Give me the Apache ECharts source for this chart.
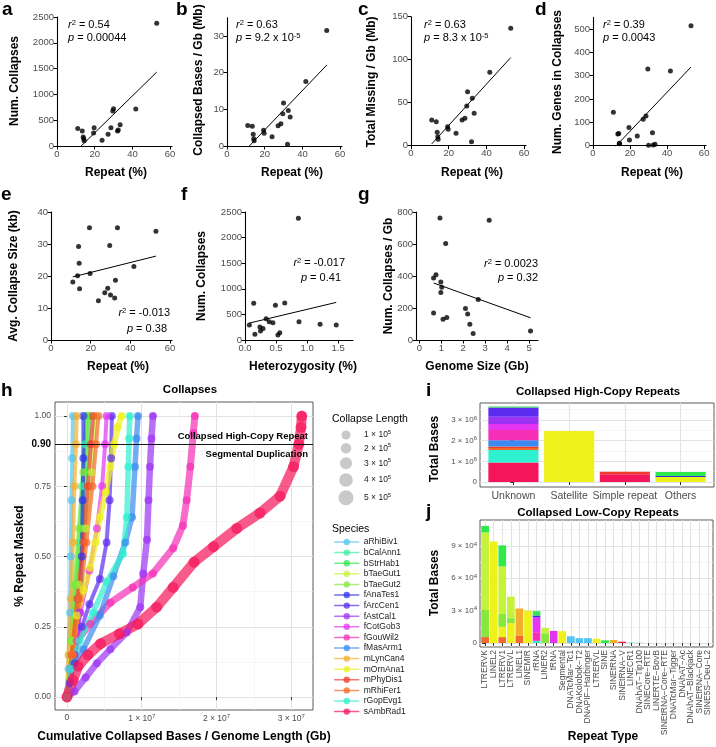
<!DOCTYPE html>
<html><head><meta charset="utf-8">
<script src="https://cdn.jsdelivr.net/npm/echarts@6/dist/echarts.min.js"></script>
<style>html,body{margin:0;padding:0;background:#fff}#c{width:716px;height:747px}</style>
</head><body><div id="c"></div>
<script>
// ---------------- DATA ----------------
// panels a-g : one value per species (17 assemblies)
const repeatPct        = [11.0,13.4,13.9,14.2,14.4,19.4,19.7,23.9,27.1,28.6,29.6,30.0,32.1,32.5,33.5,41.8,52.9];
const numCollapses     = [337,291,175,140,100,252,356,110,227,356,678,724,291,310,414,717,2378];
const collapsedMbPerGb = [5.6,5.4,3.2,2.0,1.4,4.3,3.5,2.5,5.5,6.1,8.8,11.7,0.5,9.7,7.9,17.6,31.5];
const missingMbPerGb   = [29.9,27.9,15.5,10.5,7.4,22.1,19.0,14.4,29.9,31.8,46.2,62.8,4.7,55.1,37.7,85.3,136.5];
const genesInCollapses = [143,50,52,10,8,78,24,42,113,127,329,2,56,3,6,320,514];
const avgCollapseKb    = [18.1,20.1,29.2,24.0,16.0,35.1,20.8,12.3,14.8,16.2,29.5,14.1,13.1,18.7,35.1,23.0,34.0];
const heterozygosity   = [0.45,0.07,0.25,0.56,0.53,0.24,0.39,0.16,0.29,0.87,0.49,0.64,1.47,1.21,0.34,0.14,0.86];
const genomeSizeGb     = [1.02,5.06,1.25,1.08,2.45,0.65,0.98,0.65,2.3,2.2,2.68,1.2,0.98,0.76,2.1,0.94,3.18];
const collapsesPerGb   = [330,57,140,130,41,388,363,169,99,162,253,603,297,408,197,763,748];

const statR2 = {a:'0.54', b:'0.63', c:'0.63', d:'0.39', e:'-0.013', f:'-0.017', g:'0.0023'};
const statP  = {a:['0.00044',''], b:['9.2 x 10','-5'], c:['8.3 x 10','-5'], d:['0.0043',''], e:['0.38',''], f:['0.41',''], g:['0.32','']};

// panel h : species curves, x = cumulative collapsed bases / genome length (units of 1e7), y = fraction repeat masked
const species = ['aRhiBiv1','bCalAnn1','bStrHab1','bTaeGut1','bTaeGut2','fAnaTes1','fArcCen1','fAstCal1','fCotGob3','fGouWil2','fMasArm1','mLynCan4','mOrnAna1','mPhyDis1','mRhiFer1','rGopEvg1','sAmbRad1'];
const speciesColors = ['#52c5f2','#3cef9e','#2fe84c','#c5f23b','#86e83c','#2b31ef','#5b2cf0','#9c33f2','#e534f2','#f52fb6','#3a8af0','#f3af2c','#eef21a','#ef3a2c','#f36b2a','#2ff0cf','#f5155a'];
const hCurves = {
  aRhiBiv1: [[0,0],[0.02,0.1],[0.04,0.3],[0.05,0.5],[0.06,0.7],[0.07,0.85],[0.08,1.0]],
  bCalAnn1: [[0,0],[0.04,0.15],[0.1,0.35],[0.16,0.55],[0.2,0.75],[0.24,0.9],[0.26,1.0]],
  bStrHab1: [[0,0],[0.06,0.2],[0.12,0.4],[0.2,0.6],[0.26,0.8],[0.3,1.0]],
  bTaeGut1: [[0,0],[0.08,0.2],[0.16,0.4],[0.25,0.6],[0.33,0.8],[0.38,1.0]],
  bTaeGut2: [[0,0],[0.05,0.2],[0.1,0.4],[0.16,0.6],[0.22,0.8],[0.27,1.0]],
  fAnaTes1: [[0,0],[0.1,0.12],[0.17,0.3],[0.2,0.5],[0.21,0.7],[0.22,0.85],[0.22,1.0]],
  fArcCen1: [[0,0],[0.04,0.05],[0.1,0.15],[0.2,0.25],[0.3,0.33],[0.44,0.42],[0.53,0.55],[0.57,0.7],[0.59,0.85],[0.6,1.0]],
  fAstCal1: [[0,0],[0.1,0.02],[0.25,0.07],[0.4,0.12],[0.58,0.17],[0.8,0.23],[0.98,0.32],[1.02,0.44],[1.07,0.56],[1.09,0.7],[1.11,0.82],[1.13,0.92],[1.15,1.0]],
  fCotGob3: [[0,0],[0.08,0.15],[0.18,0.3],[0.3,0.45],[0.4,0.6],[0.47,0.75],[0.51,0.9],[0.53,1.0]],
  fGouWil2: [[0,0],[0.05,0.1],[0.13,0.2],[0.31,0.26],[0.58,0.336],[0.88,0.39],[1.15,0.44],[1.42,0.53],[1.55,0.61],[1.6,0.7],[1.65,0.82],[1.69,0.94],[1.71,1.0]],
  fMasArm1: [[0,0],[0.05,0.1],[0.22,0.17],[0.44,0.29],[0.62,0.43],[0.78,0.55],[0.87,0.64],[0.91,0.82],[0.93,0.92],[0.95,1.0]],
  mLynCan4: [[0,0],[0.02,0.15],[0.05,0.35],[0.08,0.55],[0.1,0.75],[0.12,0.9],[0.13,1.0]],
  mOrnAna1: [[0,0],[0.06,0.15],[0.13,0.29],[0.22,0.38],[0.31,0.46],[0.38,0.55],[0.44,0.64],[0.52,0.73],[0.58,0.82],[0.63,0.9],[0.68,0.96],[0.73,1.0]],
  mPhyDis1: [[0,0],[0.06,0.15],[0.14,0.35],[0.22,0.55],[0.28,0.75],[0.32,0.9],[0.35,1.0]],
  mRhiFer1: [[0,0],[0.08,0.15],[0.17,0.35],[0.26,0.55],[0.34,0.75],[0.39,0.9],[0.42,1.0]],
  rGopEvg1: [[0,0],[0.05,0.1],[0.17,0.2],[0.35,0.3],[0.53,0.41],[0.75,0.51],[0.8,0.64],[0.82,0.82],[0.83,0.92],[0.84,1.0]],
  sAmbRad1: [[0,0],[0.08,0.06],[0.15,0.11],[0.28,0.15],[0.45,0.19],[0.7,0.225],[0.95,0.26],[1.2,0.32],[1.42,0.39],[1.7,0.48],[1.96,0.535],[2.27,0.6],[2.58,0.655],[2.85,0.715],[3.03,0.82],[3.1,0.9],[3.13,0.96],[3.14,1.0]]
};
const threshold = 0.9;
const hXTicks = [0,1,2,3];              // x 10^7
const hYTicks = [0,0.25,0.5,0.75,0.9,1.0];
const sizeLegendVals = [1,2,3,4,5];     // x 10^5

// panel i : collapsed high-copy repeats (units of 1e6 bases)
const iCats = ['Unknown','Satellite','Simple repeat','Others'];
const iStacks = {
  sAmbRad1:[0.95,0,0.38,0], rGopEvg1:[0.6,0,0,0], mRhiFer1:[0.1,0,0,0], mPhyDis1:[0.07,0,0.12,0],
  mOrnAna1:[0,2.47,0,0.24], fMasArm1:[0.3,0,0,0], fGouWil2:[0.5,0,0,0], fCotGob3:[0.28,0,0,0],
  fAstCal1:[0.35,0,0,0], fArcCen1:[0.45,0,0,0], fAnaTes1:[0,0,0,0.05], bStrHab1:[0.05,0,0,0.2]
};
const iYTicks = [0,1,2,3];

// panel j : collapsed low-copy repeats (units of 1e4 bases)
const jCats = ['LTRERVK','LINEL2','LTRERV1','LTRERVL','LINEL1','SINEMIR','rRNA','LINER2','tRNA','Segmental','DNATcMar−Tc1','DNAKolobok−T2','DNAPIF−Harbinger','LTRERVL','SINE','SINEtRNA','SINEtRNA−V','LINECR1','DNAhAT−Tip100','SINECore−RTE','LINERTE−BovB','SINEtRNA−Core−RTE','DNATcMar−Tigger','DNAhAT−Ac','DNAhAT−Blackjack','SINEtRNA−Core','SINE5S−Deu−L2'];
const jStacks = {
  sAmbRad1:[0,0,0,0,0,0,0,0,0,0,0,0,0,0,0,0,0.12,0,0,0,0,0,0,0,0,0,0],
  rGopEvg1:[0,0,0,0,0,0,0.2,0,0,0,0,0,0,0,0,0,0,0.04,0,0,0,0,0,0,0,0,0],
  mRhiFer1:[0.55,0,0.55,0,0.7,0,0,0,0,0,0,0,0,0,0,0,0,0,0,0,0,0,0,0,0,0,0],
  mOrnAna1:[0,9.4,0.95,1.85,0,3.0,0,0,0,1.1,0,0,0,0.4,0,0,0,0,0,0,0,0,0,0,0,0,0],
  mLynCan4:[0,0,0,0,2.5,0,0,0,0,0,0,0,0,0,0,0.28,0,0,0,0,0,0,0,0,0,0,0],
  fGouWil2:[0,0,0,0,0,0,0.8,0,0,0,0,0,0,0,0,0,0,0,0,0,0,0,0,0,0,0,0],
  fCotGob3:[0,0,0,0,0,0,1.4,0,1.12,0,0,0,0,0,0,0,0,0,0,0,0,0,0,0,0,0,0],
  fAnaTes1:[0,0,0,0,0,0,0.15,0,0,0,0,0,0,0,0,0,0,0,0,0,0,0,0,0,0,0,0],
  bTaeGut2:[2.5,0,1.2,0.45,0,0,0,0.9,0,0,0,0,0,0,0,0,0,0,0,0,0,0,0,0,0,0,0],
  bTaeGut1:[7.2,0,4.4,2.0,0,0,0,0.5,0,0,0,0,0,0,0,0,0,0,0,0,0,0,0,0,0,0,0],
  bStrHab1:[0.6,0,1.95,0,0,0,0.4,0,0,0,0,0,0,0,0.25,0,0,0,0,0,0,0,0,0,0,0,0],
  aRhiBiv1:[0,0,0,0,0,0,0,0,0,0,0.62,0.45,0.45,0,0,0,0,0,0.03,0,0,0,0,0,0,0,0]
};
const jYTicks = [0,3,6,9];

// ---------------- BUILD ----------------
const FONT = '"Liberation Sans", Arial, Helvetica, sans-serif';
const GREY = '#4d4d4d', BORDER = '#5a5a5a', MAJ = '#e2e2e2', MIN = '#f0f0f0';
const grids = [], xAxes = [], yAxes = [], series = [], graphics = [];
const colorOf = sp => speciesColors[species.indexOf(sp)];

function sciRich(fs, color) {
  return { n:{fontSize:fs,color,fontFamily:FONT}, s:{fontSize:Math.round(fs*0.72),color,fontFamily:FONT,padding:[0,0,Math.round(fs*0.55),0]},
           b:{fontSize:fs+1.5,color:'#000',fontWeight:'bold',fontFamily:FONT} };
}
const sciFmt = exp => v => v === 0 ? '{n|0}' : '{n|' + v + ' × 10}{s|' + exp + '}';

function fit(xs, ys) {
  const n = xs.length;
  const mx = xs.reduce((a,b)=>a+b,0)/n, my = ys.reduce((a,b)=>a+b,0)/n;
  let sxy = 0, sxx = 0;
  for (let i=0;i<n;i++){ sxy += (xs[i]-mx)*(ys[i]-my); sxx += (xs[i]-mx)**2; }
  const b = sxy/sxx, a = my - b*mx;
  const x0 = Math.min(...xs), x1 = Math.max(...xs);
  return [[x0, a+b*x0],[x1, a+b*x1]];
}

function scatterPanel(rect, xs, ys, xr, yr, xt, yt, xfmt) {
  const gi = grids.length;
  grids.push({left:rect[0], top:rect[1], width:rect[2], height:rect[3]});
  const common = {
    gridIndex:gi, type:'value',
    axisLine:{show:true,onZero:false,lineStyle:{color:'#000',width:1.1}},
    splitLine:{show:false}
  };
  xAxes.push(Object.assign({}, common, {min:xr[0], max:xr[1],
    axisTick:{show:true,length:3.5,customValues:xt,lineStyle:{color:'#000'}},
    axisLabel:{customValues:xt, formatter:xfmt || (v=>String(v)), color:GREY, fontSize:9.5, fontFamily:FONT, margin:3, showMinLabel:true, showMaxLabel:true}}));
  yAxes.push(Object.assign({}, common, {min:yr[0], max:yr[1],
    axisTick:{show:true,length:3.5,customValues:yt,lineStyle:{color:'#000'}},
    axisLabel:{customValues:yt, formatter:v=>String(v), color:GREY, fontSize:9.5, fontFamily:FONT, margin:3, showMinLabel:true, showMaxLabel:true}}));
  series.push({type:'scatter', xAxisIndex:gi, yAxisIndex:gi, data:xs.map((x,i)=>[x,ys[i]]),
    symbolSize:5, itemStyle:{color:'#000'}, silent:true, z:3});
  series.push({type:'line', xAxisIndex:gi, yAxisIndex:gi, data:fit(xs,ys), symbol:'none',
    lineStyle:{color:'#000',width:1}, clip:true, silent:true, z:2});
}

scatterPanel([57,17,115,129],    repeatPct, numCollapses,     [0,61],[0,2500],[0,20,40,60],[0,500,1000,1500,2000,2500]);
scatterPanel([227,17.7,115,128.3],repeatPct, collapsedMbPerGb,[0,61],[0,35],  [0,20,40,60],[0,10,20,30]);
scatterPanel([411,16.7,115,129], repeatPct, missingMbPerGb,   [0,61],[0,150], [0,20,40,60],[0,50,100,150]);
scatterPanel([593,17.4,113,128.3],repeatPct, genesInCollapses,[0,61],[0,550], [0,20,40,60],[0,100,200,300,400,500]);
scatterPanel([51,212,121,128],   repeatPct, avgCollapseKb,    [0,61],[0,40],  [0,20,40,60],[0,10,20,30,40]);
scatterPanel([245,212,108,128],  heterozygosity, numCollapses,[0,1.74],[0,2500],[0,0.5,1,1.5],[0,500,1000,1500,2000,2500], v=>v.toFixed(1));
scatterPanel([416,212,122,128],  genomeSizeGb, collapsesPerGb,[-0.15,5.4],[0,800],[0,1,2,3,4,5],[0,200,400,600,800]);

// ---- panel h ----
const hG = grids.length;
grids.push({left:55, top:402, width:258, height:308, show:true, backgroundColor:'#fff', borderColor:BORDER, borderWidth:1});
const hX = xAxes.length;
xAxes.push({gridIndex:hG, type:'value', min:-0.16, max:3.29, axisLine:{show:false},
  axisTick:{show:true,length:3,customValues:hXTicks,lineStyle:{color:'#333'}},
  axisLabel:{customValues:hXTicks, formatter:sciFmt(7), rich:sciRich(8.5,GREY), margin:3, showMinLabel:true, showMaxLabel:true},
  splitLine:{show:true,lineStyle:{color:MAJ,width:1}}});
xAxes.push({gridIndex:hG, type:'value', min:-0.16, max:3.29, axisLine:{show:false},
  axisTick:{show:false,customValues:[0.5,1.5,2.5]}, axisLabel:{show:false},
  splitLine:{show:true,lineStyle:{color:MIN,width:0.7}}});
const hY = yAxes.length;
yAxes.push({gridIndex:hG, type:'value', min:-0.046, max:1.05, axisLine:{show:false},
  axisTick:{show:true,length:3,customValues:hYTicks,lineStyle:{color:'#333'}},
  axisLabel:{customValues:hYTicks, margin:4, rich:sciRich(8.5,GREY), showMinLabel:true, showMaxLabel:true,
    formatter:v => Math.abs(v-threshold)<1e-9 ? '{b|' + v.toFixed(2) + '}' : '{n|' + v.toFixed(2) + '}'},
  splitLine:{show:true,lineStyle:{color:MAJ,width:1}}});
yAxes.push({gridIndex:hG, type:'value', min:-0.046, max:1.05, axisLine:{show:false},
  axisTick:{show:false,customValues:[0.125,0.375,0.625,0.875]}, axisLabel:{show:false},
  splitLine:{show:true,lineStyle:{color:MIN,width:0.7}}});

const hWidth = {sAmbRad1:10, fGouWil2:7, fAstCal1:6.5, fMasArm1:5.5, rGopEvg1:5.5, mOrnAna1:6};
species.forEach((sp,k) => {
  const s = {name:sp, type:'line', xAxisIndex:hX, yAxisIndex:hY, data:hCurves[sp],
    symbol:'circle', symbolSize: sp==='sAmbRad1' ? 11 : 8, showSymbol:true,
    itemStyle:{color:speciesColors[k], opacity:0.7},
    lineStyle:{color:speciesColors[k], width:hWidth[sp]||4, opacity:0.7, cap:'round', join:'round'},
    clip:true, silent:true};
  if (sp === 'sAmbRad1') {
    s.markLine = {symbol:'none', silent:true, label:{show:false}, animation:false,
      lineStyle:{color:'#000', width:0.9, type:'solid', opacity:1}, data:[{yAxis:threshold}]};
  }
  series.push(s);
});

// ---- bar panels i, j ----
function barPanel(rect, xr, yr, cats, stacks, yMajor, yMinor, exp, xLabel, stackName, splitLabels) {
  const go = grids.length;
  grids.push({left:rect[0], top:rect[1], width:rect[2], height:rect[3], show:true, backgroundColor:'#fff', borderColor:BORDER, borderWidth:1});
  const idxs = cats.map((_,k)=>k);
  // labels may be split over two axes (even / odd) so none is dropped as overlapping
  const labA = splitLabels ? idxs.filter(k=>k%2===0) : idxs;
  const labB = splitLabels ? idxs.filter(k=>k%2===1) : null;
  const labelOpt = vals => Object.assign({customValues:vals, formatter:v=>cats[Math.round(v)], color:GREY, fontFamily:FONT,
      showMinLabel:true, showMaxLabel:true, hideOverlap:false}, xLabel);
  xAxes.push({gridIndex:go, type:'value', position:'bottom', min:xr[0], max:xr[1], axisLine:{show:false},
    axisTick:{show:true,length:3,customValues:idxs,lineStyle:{color:'#333'}},
    axisLabel:labelOpt(labA),
    splitLine:{show:true,lineStyle:{color:MAJ,width:1}}});
  if (labB) {
    xAxes.push({gridIndex:go, type:'value', position:'bottom', min:xr[0], max:xr[1], axisLine:{show:false},
      axisTick:{show:false,customValues:labB}, axisLabel:labelOpt(labB), splitLine:{show:false}});
  }
  yAxes.push({gridIndex:go, type:'value', min:yr[0], max:yr[1], axisLine:{show:false},
    axisTick:{show:true,length:3,customValues:yMajor,lineStyle:{color:'#333'}},
    axisLabel:{customValues:yMajor, formatter:sciFmt(exp), rich:sciRich(8,GREY), margin:3, showMinLabel:true, showMaxLabel:true},
    splitLine:{show:true,lineStyle:{color:MAJ,width:1}}});
  yAxes.push({gridIndex:go, type:'value', min:yr[0], max:yr[1], axisLine:{show:false},
    axisTick:{show:false,customValues:yMinor}, axisLabel:{show:false},
    splitLine:{show:true,lineStyle:{color:MIN,width:0.7}}});
  const unit = rect[2]/(xr[1]-xr[0]);
  const gi = grids.length;
  grids.push({left:rect[0] + (-0.5 - xr[0])*unit, top:rect[1], width:cats.length*unit, height:rect[3]});
  const xi = xAxes.length;
  xAxes.push({gridIndex:gi, type:'category', data:idxs.map(String), show:false, boundaryGap:true});
  const yi = yAxes.length;
  yAxes.push({gridIndex:gi, type:'value', min:yr[0], max:yr[1], show:false});
  // stacking order bottom -> top = reverse legend order
  species.slice().reverse().forEach(sp => {
    if (!stacks[sp]) return;
    series.push({name:sp, type:'bar', stack:stackName, xAxisIndex:xi, yAxisIndex:yi,
      data:stacks[sp], barWidth:'90%', itemStyle:{color:colorOf(sp)}, silent:true});
  });
}
barPanel([480,403,234,84], [-0.6,3.6], [-0.24,3.82], iCats, iStacks, iYTicks, [0.5,1.5,2.5,3.5], 6,
  {fontSize:10.5, margin:4}, 'i', false);
barPanel([480,520,233,127], [-0.6,26.6], [-0.37,11.4], jCats, jStacks, jYTicks, [1.5,4.5,7.5,10.5], 4,
  {fontSize:8.5, margin:3, rotate:90}, 'j', true);

// ---------------- TEXT ----------------
function T(x, y, text, o) {
  o = o || {};
  const el = {type:'text', x, y, z:100, silent:true, rotation:o.rot||0,
    style:{text, fill:o.color||'#000', fontSize:o.size||11, fontFamily:FONT,
      fontWeight:o.bold?'bold':'normal', fontStyle:o.italic?'italic':'normal',
      align:o.align||'left', verticalAlign:o.valign||'middle'}};
  if (o.rich) el.style.rich = o.rich;
  graphics.push(el);
}
const R90 = Math.PI/2;
// panel letters
[['a',2,10],['b',176,10],['c',358,10],['d',535,10],['e',1,195],['f',181,195],['g',358,195],['h',1,391],['i',426,391],['j',426,512]]
  .forEach(p => T(p[1], p[2], p[0], {size:19, bold:true}));
// axis titles
const AX = {size:12, bold:true, align:'center'};
T(15,81,'Num. Collapses',Object.assign({rot:R90},AX));
T(199,80,'Collapsed Bases / Gb (Mb)',Object.assign({rot:R90},AX));
T(372,82,'Total Missing / Gb (Mb)',Object.assign({rot:R90},AX));
T(558,82,'Num. Genes in Collapses',Object.assign({rot:R90},AX));
T(116,173,'Repeat (%)',AX); T(292,173,'Repeat (%)',AX); T(472,173,'Repeat (%)',AX); T(652,173,'Repeat (%)',AX);
T(14,276,'Avg. Collapse Size (kb)',Object.assign({rot:R90},AX));
T(202,276,'Num. Collapses',Object.assign({rot:R90},AX));
T(389,276,'Num. Collapses / Gb',Object.assign({rot:R90},AX));
T(118,367,'Repeat (%)',AX); T(303,367,'Heterozygosity (%)',AX); T(477,367,'Genome Size (Gb)',AX);
T(190,390,'Collapses',{size:11.5,bold:true,align:'center'});
T(184,737,'Cumulative Collapsed Bases / Genome Length (Gb)',AX);
T(20,556,'% Repeat Masked',Object.assign({rot:R90},AX));
T(598,392,'Collapsed High-Copy Repeats',{size:11.5,bold:true,align:'center'});
T(598,513,'Collapsed Low-Copy Repeats',{size:11.5,bold:true,align:'center'});
T(435,449,'Total Bases',Object.assign({rot:R90},AX));
T(435,583,'Total Bases',Object.assign({rot:R90},AX));
T(603,737,'Repeat Type',AX);
T(308,436,'Collapsed High-Copy Repeat',{size:9.5,bold:true,align:'right'});
T(308,454,'Segmental Duplication',{size:9.5,bold:true,align:'right'});
// stats
const statRich = {
  i:{fontStyle:'italic',fontSize:11,fontFamily:FONT,fill:'#000'},
  n:{fontSize:11,fontFamily:FONT,fill:'#000'},
  s:{fontSize:7.5,fontFamily:FONT,fill:'#000',padding:[0,0,5,0]}
};
function stat(key, x1, y1, x2, y2, align) {
  T(x1, y1, '{i|r}{s|2}{n| = ' + statR2[key] + '}', {rich:statRich, align});
  const p = statP[key];
  T(x2, y2, '{i|p}{n| = ' + p[0] + '}' + (p[1] ? '{s|' + p[1] + '}' : ''), {rich:statRich, align});
}
stat('a',68,25,68,38,'left'); stat('b',236,25,236,38,'left'); stat('c',424,25,424,38,'left'); stat('d',603,25,603,38,'left');
stat('e',170,313,167,329,'right'); stat('f',345,263,341,278,'right'); stat('g',538,264,538,278,'right');
// size legend
T(332,419,'Collapse Length',{size:10.5});
const sizeY = [435,448.3,463.3,480,497.7], sizeR = [4.5,5.2,6,6.8,7.5];
sizeLegendVals.forEach((v,k) => {
  graphics.push({type:'circle', z:100, silent:true, shape:{cx:346, cy:sizeY[k], r:sizeR[k]}, style:{fill:'#c9c9c9'}});
  T(364, sizeY[k], '{n|' + v + ' × 10}{s|5}', {rich:{n:{fontSize:8.5,fontFamily:FONT,fill:'#1a1a1a'}, s:{fontSize:6,fontFamily:FONT,fill:'#1a1a1a',padding:[0,0,5,0]}}});
});
T(332,529,'Species',{size:10.5});

const option = {
  animation:false,
  backgroundColor:'#fff',
  grid:grids, xAxis:xAxes, yAxis:yAxes, series,
  legend:{data:species, orient:'vertical', left:334, top:537.5, itemWidth:24, itemHeight:8, itemGap:1.6,
    selectedMode:false, padding:0,
    textStyle:{fontSize:8.5, fontFamily:FONT, color:'#1a1a1a', lineHeight:8},
    lineStyle:{width:1.5}, itemStyle:{opacity:0.75}},
  graphic:graphics
};
const chart = echarts.init(document.getElementById('c'), null, {renderer:'canvas'});
chart.setOption(option);
</script></body></html>
